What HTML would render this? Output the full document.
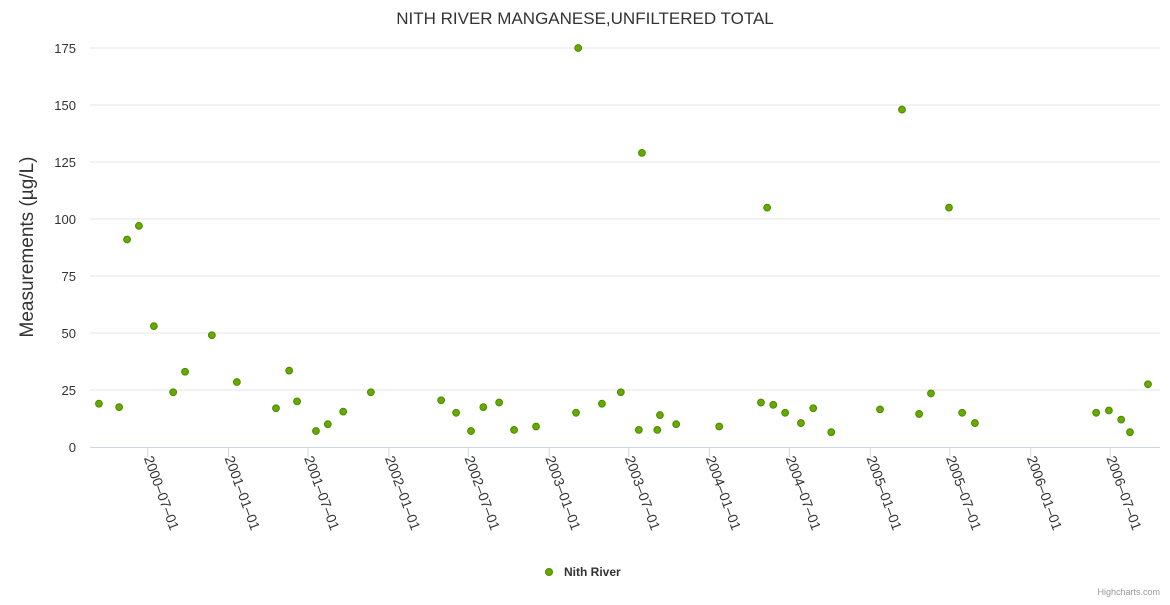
<!DOCTYPE html>
<html><head><meta charset="utf-8"><style>
body{margin:0;background:#fff;font-family:"Liberation Sans",sans-serif;}
svg text{font-family:"Liberation Sans",sans-serif;}
</style></head><body>
<svg id="chart" width="1170" height="600">
<rect width="1170" height="600" fill="#fff"/>
<text x="585" y="24" text-anchor="middle" font-size="17" fill="#333">NITH RIVER MANGANESE,UNFILTERED TOTAL</text>
<text transform="translate(33,247) rotate(-90)" text-anchor="middle" font-size="19" fill="#333">Measurements (µg/L)</text>
<g id="grid"></g><g id="xaxis"></g><g id="pts"></g>
<g>
<circle cx="549" cy="572" r="3.5" fill="#66aa00" stroke="#4c8a00"/>
<text x="564" y="576" font-size="12" font-weight="bold" fill="#333">Nith River</text>
</g>
<text x="1160" y="595" text-anchor="end" font-size="9" fill="#999">Highcharts.com</text>
</svg>
<script>
const yTicks=[0,25,50,75,100,125,150,175];
const xTicks=["2000-07-01","2001-01-01","2001-07-01","2002-01-01","2002-07-01","2003-01-01","2003-07-01","2004-01-01","2004-07-01","2005-01-01","2005-07-01","2006-01-01","2006-07-01"];
const dates=["2000-03-12","2000-04-27","2000-05-15","2000-06-11","2000-07-15","2000-08-28","2000-09-24","2000-11-24","2001-01-20","2001-04-19","2001-05-19","2001-06-06","2001-07-19","2001-08-15","2001-09-19","2001-11-21","2002-04-30","2002-06-03","2002-07-07","2002-08-04","2002-09-09","2002-10-13","2002-12-02","2003-03-03","2003-03-08","2003-05-01","2003-06-13","2003-07-24","2003-07-31","2003-09-04","2003-09-10","2003-10-17","2004-01-23","2004-04-27","2004-05-11","2004-05-25","2004-06-21","2004-07-27","2004-08-24","2004-10-04","2005-01-23","2005-03-14","2005-04-22","2005-05-19","2005-06-29","2005-07-29","2005-08-27","2006-05-30","2006-06-28","2006-07-26","2006-08-15","2006-09-25"];
const values=[19,17.5,91,97,53,24,33,49,28.5,17,33.5,20,7,10,15.5,24,20.5,15,7,17.5,19.5,7.5,9,15,175,19,24,7.5,129,7.5,14,10,9,19.5,105,18.5,15,10.5,17,6.5,16.5,148,14.5,23.5,105,15,10.5,15,16,12,6.5,27.5];
const NS="http://www.w3.org/2000/svg";
const ref=Date.UTC(2000,6,1);
function xS(d){const p=d.split("-");const t=Date.UTC(+p[0],+p[1]-1,+p[2]);return 147.7+(t-ref)/86400000*0.4393;}
function yS(v){return 447-v*2.28;}
function mk(tag,a,parent){const e=document.createElementNS(NS,tag);for(const k in a)e.setAttribute(k,a[k]);parent.appendChild(e);return e;}
const grid=document.getElementById("grid"),xa=document.getElementById("xaxis"),pts=document.getElementById("pts");
yTicks.forEach(v=>{
 if(v>0){const l=mk("line",{x1:90,x2:1160,y1:yS(v),y2:yS(v),stroke:"#e6e6e6"},grid);
 
 }
 const t=mk("text",{x:76,y:yS(v)+5,"text-anchor":"end","font-size":13,fill:"#333"},grid);t.textContent=v;
 
 
});
const ax=mk("line",{x1:90,x2:1160,y1:447.5,y2:447.5,stroke:"#ccd6eb"},xa);


xTicks.forEach(d=>{
 const x=xS(d);
 mk("line",{x1:x,x2:x,y1:447,y2:457,stroke:"#ccd6eb"},xa);
 const t=mk("text",{transform:`translate(${x-4},${458}) rotate(70)`,"font-size":14,fill:"#333"},xa);t.textContent=d.replace(/-/g,"\u2013");
 
 
});
dates.forEach((d,i)=>{
 const c=mk("circle",{cx:xS(d),cy:yS(values[i]),r:3.4,fill:"#66aa00",stroke:"#4c8a00","stroke-width":1},pts);
 
 
});
</script>
</body></html>
